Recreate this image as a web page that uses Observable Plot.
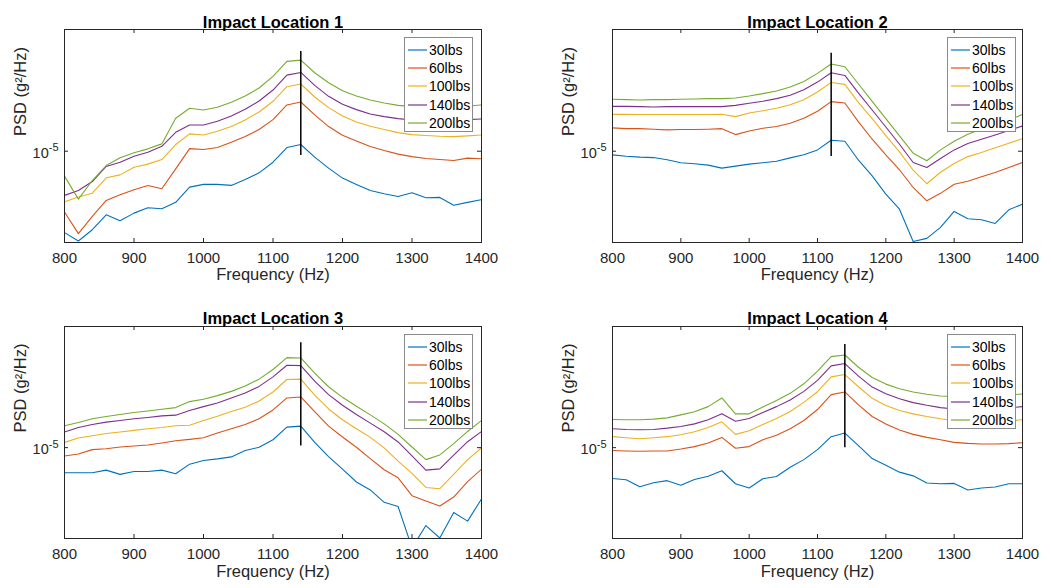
<!DOCTYPE html>
<html><head><meta charset="utf-8">
<script src="https://cdn.jsdelivr.net/npm/d3@7"></script>
<script src="https://cdn.jsdelivr.net/npm/@observablehq/plot@0.6"></script>
<style>
body{margin:0;background:#fff;font-family:"Liberation Sans",Arial,Helvetica,sans-serif;}
#wrap{position:relative;width:1051px;height:588px;overflow:hidden;background:#fff}
.panel{position:absolute;z-index:1}
.legend{position:absolute;z-index:10;background:#fff;border:1px solid #8a8a8a;box-sizing:border-box;width:69px;height:95px;font-size:14px;color:#000}
.legend .row{position:absolute;left:0;width:67px;height:18px;line-height:18px;white-space:nowrap}
.legend svg{position:absolute;left:2px;top:7px}
.legend .tx{position:absolute;left:24px;top:0}
</style></head><body><div id="wrap"></div>
<script>
// Frequency (Hz)
const freq = [800,820,840,860,880,900,920,940,960,980,1000,1020,1040,1060,1080,1100,1120,1140,1160,1180,1200,1220,1240,1260,1280,1300,1320,1340,1360,1380,1400];
const seriesNames = ["30lbs","60lbs","100lbs","140lbs","200lbs"];
const colors = ["#0072BD","#D95319","#EDB120","#7E2F8E","#77AC30"];
const titles = ["Impact Location 1","Impact Location 2","Impact Location 3","Impact Location 4"];
const xTicks = [800,900,1000,1100,1200,1300,1400];
const yTicks = [1e-5];
const UNIT = 1e-5; // values below are PSD in units of 1e-5 g^2/Hz

const loc1_30 = [0.540,0.507,0.552,0.618,0.591,0.626,0.652,0.647,0.679,0.762,0.778,0.778,0.772,0.807,0.849,0.920,1.028,1.052,0.956,0.880,0.816,0.778,0.743,0.725,0.710,0.730,0.703,0.705,0.664,0.679,0.693];
const loc1_60 = [0.631,0.536,0.611,0.689,0.719,0.747,0.772,0.753,0.875,1.020,1.013,1.028,1.070,1.117,1.178,1.270,1.419,1.451,1.316,1.205,1.128,1.081,1.036,1.005,0.978,0.960,0.946,0.939,0.932,0.949,0.944];
const loc1_100 = [0.682,0.707,0.728,0.818,0.836,0.886,0.907,0.939,1.052,1.140,1.131,1.163,1.205,1.267,1.346,1.459,1.629,1.663,1.507,1.391,1.306,1.248,1.208,1.178,1.151,1.134,1.126,1.120,1.117,1.123,1.131];
const loc1_140 = [0.716,0.743,0.795,0.891,0.920,0.963,0.992,1.038,1.154,1.220,1.220,1.254,1.306,1.373,1.462,1.589,1.779,1.815,1.646,1.515,1.426,1.370,1.326,1.299,1.280,1.267,1.264,1.261,1.261,1.270,1.277];
const loc1_200 = [0.828,0.696,0.801,0.897,0.951,0.988,1.018,1.057,1.283,1.384,1.366,1.394,1.448,1.519,1.613,1.761,1.973,1.993,1.811,1.679,1.581,1.519,1.473,1.440,1.415,1.401,1.401,1.401,1.404,1.408,1.419];

const loc2_30 = [0.973,0.963,0.956,0.953,0.937,0.916,0.909,0.900,0.880,0.893,0.907,0.916,0.927,0.951,0.973,1.010,1.087,1.078,0.934,0.830,0.723,0.645,0.505,0.517,0.562,0.634,0.600,0.595,0.579,0.642,0.670];
const loc2_60 = [1.193,1.186,1.186,1.181,1.175,1.178,1.178,1.181,1.186,1.134,1.166,1.190,1.205,1.236,1.283,1.353,1.455,1.440,1.248,1.095,0.973,0.869,0.760,0.687,0.727,0.779,0.797,0.824,0.851,0.884,0.918];
const loc2_100 = [1.322,1.322,1.320,1.320,1.320,1.320,1.320,1.320,1.322,1.299,1.336,1.359,1.384,1.422,1.477,1.565,1.683,1.658,1.444,1.280,1.126,0.995,0.866,0.782,0.853,0.911,0.960,0.990,1.026,1.062,1.100];
const loc2_140 = [1.404,1.404,1.401,1.397,1.401,1.401,1.401,1.401,1.401,1.415,1.437,1.459,1.489,1.527,1.593,1.687,1.811,1.774,1.553,1.366,1.201,1.054,0.918,0.884,0.946,1.010,1.060,1.095,1.131,1.169,1.211];
const loc2_200 = [1.481,1.477,1.473,1.477,1.477,1.481,1.485,1.489,1.489,1.496,1.519,1.546,1.577,1.625,1.696,1.802,1.934,1.895,1.663,1.459,1.280,1.123,0.985,0.930,1.010,1.078,1.137,1.184,1.220,1.264,1.322];

const loc3_30 = [0.826,0.826,0.826,0.843,0.816,0.834,0.834,0.843,0.820,0.882,0.907,0.918,0.932,0.978,1.003,1.062,1.169,1.178,1.041,0.934,0.849,0.770,0.725,0.660,0.639,0.467,0.553,0.503,0.611,0.572,0.677];
const loc3_60 = [0.939,0.953,0.985,0.992,1.005,1.013,1.020,1.036,1.054,1.065,1.078,1.117,1.154,1.193,1.245,1.332,1.459,1.470,1.316,1.178,1.084,1.003,0.920,0.845,0.795,0.694,0.667,0.642,0.687,0.772,0.849];
const loc3_100 = [1.041,1.076,1.095,1.114,1.126,1.140,1.154,1.166,1.181,1.186,1.229,1.270,1.316,1.359,1.426,1.527,1.679,1.683,1.492,1.342,1.236,1.154,1.081,0.998,0.902,0.822,0.739,0.732,0.816,0.913,0.998];
const loc3_140 = [1.126,1.166,1.193,1.214,1.229,1.245,1.258,1.273,1.280,1.326,1.366,1.404,1.459,1.515,1.593,1.713,1.871,1.866,1.658,1.496,1.380,1.286,1.205,1.128,1.044,0.939,0.843,0.851,0.944,1.046,1.131];
const loc3_200 = [1.181,1.211,1.245,1.267,1.286,1.306,1.322,1.339,1.356,1.419,1.444,1.485,1.534,1.597,1.683,1.811,1.983,1.978,1.761,1.589,1.466,1.370,1.283,1.198,1.106,1.005,0.913,0.946,1.031,1.131,1.229];

const loc4_30 = [0.791,0.783,0.743,0.766,0.778,0.751,0.785,0.805,0.839,0.760,0.736,0.789,0.803,0.862,0.913,0.985,1.087,1.117,1.015,0.920,0.875,0.830,0.807,0.764,0.760,0.762,0.725,0.736,0.741,0.760,0.760];
const loc4_60 = [0.978,0.975,0.973,0.975,0.975,0.990,1.008,1.036,1.081,0.995,1.008,1.062,1.098,1.154,1.229,1.336,1.496,1.527,1.384,1.267,1.196,1.143,1.106,1.081,1.062,1.041,1.033,1.028,1.028,1.031,1.038];
const loc4_100 = [1.087,1.078,1.070,1.078,1.087,1.103,1.128,1.166,1.217,1.106,1.137,1.193,1.248,1.316,1.411,1.530,1.713,1.743,1.589,1.455,1.377,1.326,1.293,1.267,1.245,1.229,1.223,1.223,1.220,1.226,1.236];
const loc4_140 = [1.154,1.148,1.146,1.148,1.160,1.175,1.198,1.236,1.293,1.223,1.248,1.306,1.366,1.437,1.534,1.667,1.862,1.895,1.722,1.585,1.507,1.451,1.408,1.380,1.356,1.342,1.339,1.339,1.342,1.353,1.366];
const loc4_200 = [1.239,1.236,1.236,1.242,1.254,1.283,1.313,1.366,1.459,1.293,1.293,1.363,1.430,1.511,1.625,1.789,1.998,2.023,1.843,1.705,1.621,1.565,1.527,1.500,1.481,1.473,1.473,1.477,1.481,1.492,1.504];

// vertical marker at the peak frequency of each location
const peakFreq = [1140,1120,1140,1140];
const peakLow = [0.968,0.960,1.013,1.000];
const peakHigh = [2.127,2.100,2.220,2.190];

const allData = [
  [loc1_30,loc1_60,loc1_100,loc1_140,loc1_200],
  [loc2_30,loc2_60,loc2_100,loc2_140,loc2_200],
  [loc3_30,loc3_60,loc3_100,loc3_140,loc3_200],
  [loc4_30,loc4_60,loc4_100,loc4_140,loc4_200]
];

const layout = [
  {left:0,   top:0,   width:520, height:294, ml:64, mr:39, mt:29, mb:52, titleDy:-13, xlabDy:37, legL:404, legT:37},
  {left:520, top:0,   width:531, height:294, ml:92, mr:29, mt:29, mb:52, titleDy:-13, xlabDy:37, legL:947, legT:37},
  {left:0,   top:296, width:520, height:292, ml:64, mr:39, mt:30, mb:50, titleDy:-14, xlabDy:38, legL:404, legT:334},
  {left:520, top:296, width:531, height:292, ml:92, mr:29, mt:30, mb:50, titleDy:-14, xlabDy:38, legL:947, legT:334}
];

const FONT = '"Liberation Sans", Arial, Helvetica, sans-serif';
const AX = "#262626";
const SVGNS = "http://www.w3.org/2000/svg";
const wrap = document.getElementById("wrap");

allData.forEach((series, i) => {
  const L = layout[i];
  const rows = [];
  series.forEach((arr, s) => arr.forEach((v, k) => rows.push({f: freq[k], psd: v * UNIT, s: seriesNames[s]})));
  const pw = L.width - L.ml - L.mr, ph = L.height - L.mt - L.mb;
  const peak = [{f: peakFreq[i], lo: peakLow[i] * UNIT, hi: peakHigh[i] * UNIT}];
  const svg = Plot.plot({
    width: L.width, height: L.height,
    marginLeft: L.ml, marginRight: L.mr, marginTop: L.mt, marginBottom: L.mb,
    style: {fontFamily: FONT, fontSize: "15px", color: AX, background: "transparent", overflow: "visible"},
    x: {domain: [800, 1400], ticks: xTicks, tickSize: 0, tickPadding: 10, label: null, tickFormat: d => String(d)},
    y: {type: "log", domain: [Math.pow(10, -5.3), Math.pow(10, -4.6)], axis: null},
    color: {domain: seriesNames, range: colors},
    marks: [
      Plot.line(rows, {x: "f", y: "psd", z: "s", stroke: "s", strokeWidth: 1.1, clip: true}),
      Plot.ruleX(peak, {x: "f", y1: "lo", y2: "hi", stroke: "#000", strokeWidth: 1.5}),
      Plot.ruleX(xTicks, {x: d => d, insetTop: ph - 4, stroke: AX}),
      Plot.ruleX(xTicks, {x: d => d, insetBottom: ph - 4, stroke: AX}),
      Plot.ruleY(yTicks, {y: d => d, insetRight: pw - 4, stroke: AX}),
      Plot.ruleY(yTicks, {y: d => d, insetLeft: pw - 4, stroke: AX}),
      Plot.frame({stroke: AX, strokeWidth: 1}),
      Plot.text(yTicks, {y: d => d, text: () => "10", frameAnchor: "left", dx: -6, dy: 2, textAnchor: "end", fontSize: 14.5, fill: AX, className: "ytl"}),
      Plot.text([titles[i]], {text: d => d, frameAnchor: "top", dy: L.titleDy, fontSize: 16.5, fontWeight: "bold", fill: "#000"}),
      Plot.text(["Frequency (Hz)"], {text: d => d, frameAnchor: "bottom", dy: L.xlabDy, fontSize: 16.5, fill: AX}),
      Plot.text(["PSD (g\u00b2/Hz)"], {text: d => d, frameAnchor: "left", dx: -44, rotate: -90, fontSize: 16.5, fill: AX})
    ]
  });
  // superscript exponent on the 10^-5 tick label
  svg.querySelectorAll(".ytl text").forEach(t => {
    const ts = document.createElementNS(SVGNS, "tspan");
    ts.setAttribute("font-size", "11");
    ts.setAttribute("dy", "-6.5");
    ts.textContent = "-5";
    t.appendChild(ts);
  });
  const holder = document.createElement("div");
  holder.className = "panel";
  holder.style.left = L.left + "px";
  holder.style.top = L.top + "px";
  holder.appendChild(svg);
  wrap.appendChild(holder);

  const leg = document.createElement("div");
  leg.className = "legend";
  leg.style.left = L.legL + "px";
  leg.style.top = L.legT + "px";
  seriesNames.forEach((n, s) => {
    const row = document.createElement("div");
    row.className = "row";
    row.style.top = (2.6 + s * 18.3) + "px";
    const sw = document.createElementNS(SVGNS, "svg");
    sw.setAttribute("width", "21");
    sw.setAttribute("height", "4");
    const ln = document.createElementNS(SVGNS, "line");
    ln.setAttribute("x1", "1"); ln.setAttribute("x2", "20");
    ln.setAttribute("y1", "2"); ln.setAttribute("y2", "2");
    ln.setAttribute("stroke", colors[s]);
    ln.setAttribute("stroke-width", "1.2");
    sw.appendChild(ln);
    const tx = document.createElement("span");
    tx.className = "tx";
    tx.textContent = n;
    row.appendChild(sw); row.appendChild(tx);
    leg.appendChild(row);
  });
  wrap.appendChild(leg);
});
</script>
</body></html>
